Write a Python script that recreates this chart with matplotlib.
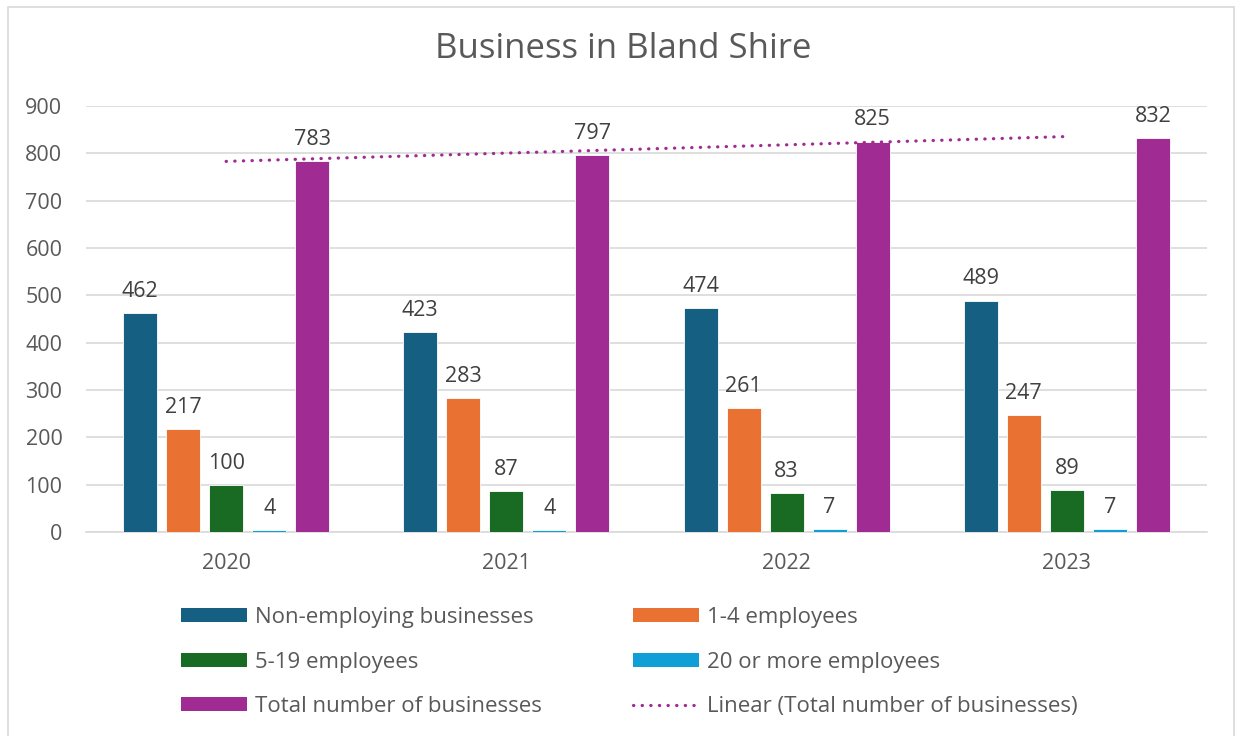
import numpy as np
import matplotlib
matplotlib.use("Agg")
import matplotlib.pyplot as plt
from matplotlib.patches import Patch, Rectangle
from matplotlib.lines import Line2D

plt.rcParams['font.family'] = ['Open Sans', 'DejaVu Sans']

years = ["2020", "2021", "2022", "2023"]
series_names = ["Non-employing businesses", "1-4 employees", "5-19 employees",
                "20 or more employees", "Total number of businesses"]
non_employing = [462, 423, 474, 489]
emp_1_4 = [217, 283, 261, 247]
emp_5_19 = [100, 87, 83, 89]
emp_20_plus = [4, 4, 7, 7]
total = [783, 797, 825, 832]
colors = ["#156082", "#E97132", "#196B24", "#0F9ED5", "#A02B93"]
trend_label = "Linear (Total number of businesses)"

W, H = 1237, 736
fig = plt.figure(figsize=(W / 100, H / 100), dpi=100)
ax = fig.add_axes([86 / W, (H - 532) / H, (1207 - 86) / W, (532 - 106) / H])

x = np.arange(len(years))
step = 43 / 280
width = 34 / 280
all_series = [non_employing, emp_1_4, emp_5_19, emp_20_plus, total]
text_col = "#404040"
fs = 15.5
handles = []
for i, (vals, c, name) in enumerate(zip(all_series, colors, series_names)):
    pos = x + (i - 2) * step
    bars = ax.bar(pos, vals, width, color=c, edgecolor="white", linewidth=0.6, zorder=3)
    for b, v in zip(bars, vals):
        ax.annotate(str(v), (b.get_x() + b.get_width() / 2, v), xytext=(0, 8),
                    textcoords="offset points", ha="center", va="bottom",
                    fontsize=fs, color=text_col)
    handles.append(Patch(facecolor=c, label=name))

# linear trendline on total
coef = np.polyfit(x, total, 1)
tl = np.polyval(coef, x)
ax.plot(x, tl, color="#A02B93", lw=2.3, linestyle=(0, (0.1, 2.6)),
        dash_capstyle="round", zorder=4)
trend_handle = Line2D([], [], color="#A02B93", lw=2.3, linestyle=(0, (0.1, 2.6)),
                      dash_capstyle="round", label=trend_label)

ax.set_xlim(-0.5, 3.5)
ax.set_ylim(0, 900)
ax.set_yticks(range(0, 901, 100))
ax.set_xticks(x)
ax.set_xticklabels(years)
ax.tick_params(axis="both", length=0, labelsize=fs, labelcolor="#595959")
ax.tick_params(axis="y", pad=17)
ax.tick_params(axis="x", pad=15)
ax.grid(axis="y", color="#D9D9D9", linewidth=1.2, zorder=0)
ax.set_axisbelow(True)
for s in ["top", "right", "left"]:
    ax.spines[s].set_visible(False)
ax.spines["bottom"].set_color("#D9D9D9")
ax.spines["bottom"].set_linewidth(1.2)

fig.text(623 / W, 1 - 49 / H, "Business in Bland Shire", ha="center", va="center",
         fontsize=25, color="#595959")

# figure border
fig.patches.append(Rectangle((8 / W, -0.05), (1234 - 8) / W, 1.05 - 7 / H,
                             transform=fig.transFigure, fill=False,
                             edgecolor="#D9D9D9", linewidth=1.2))

leg_kw = dict(frameon=False, fontsize=16, handlelength=2.97, handleheight=0.62,
              handletextpad=0.36, labelspacing=1.06, labelcolor="#595959",
              borderpad=0, borderaxespad=0, loc="upper left")
fig.legend(handles=[handles[0], handles[2], handles[4]],
           bbox_to_anchor=(181 / W, 1 - 607 / H), **leg_kw)
fig.legend(handles=[handles[1], handles[3], trend_handle],
           bbox_to_anchor=(633 / W, 1 - 607 / H), **leg_kw)

fig.savefig("out.png", dpi=100)
